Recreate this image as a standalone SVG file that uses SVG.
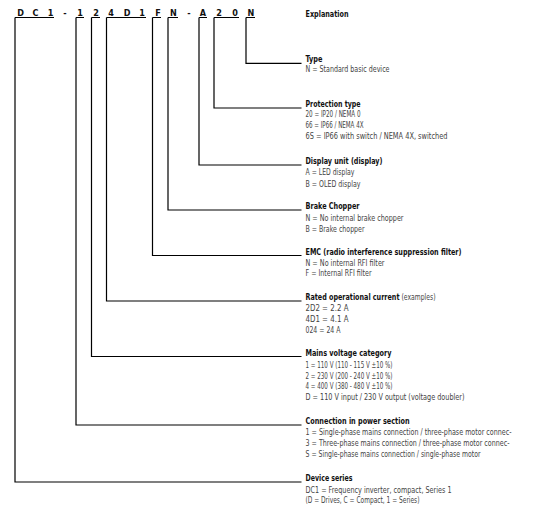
<svg xmlns="http://www.w3.org/2000/svg" width="546" height="512" viewBox="0 0 546 512">
<style>
.code{font-family:"DejaVu Sans Condensed","Liberation Sans",sans-serif;font-weight:bold;font-size:9px;fill:#111;text-anchor:middle}
.t{font-family:"DejaVu Sans Condensed","Liberation Sans",sans-serif;font-weight:bold;font-size:8.7px;fill:#111}
.b{font-family:"DejaVu Sans Condensed","Liberation Sans",sans-serif;font-size:8.5px;fill:#444}
.ln{fill:none;stroke:#000;stroke-width:1.2}
</style>
<rect width="546" height="512" fill="#fff"/>
<g id="code">
<text class="code" x="20.5" y="16">D</text>
<text class="code" x="35.5" y="16">C</text>
<text class="code" x="50.5" y="16">1</text>
<text class="code" x="65" y="16">-</text>
<text class="code" x="80" y="16">1</text>
<text class="code" x="96" y="16">2</text>
<text class="code" x="111" y="16">4</text>
<text class="code" x="127" y="16">D</text>
<text class="code" x="142" y="16">1</text>
<text class="code" x="158" y="16">F</text>
<text class="code" x="173.5" y="16">N</text>
<text class="code" x="189" y="16">-</text>
<text class="code" x="203" y="16">A</text>
<text class="code" x="219" y="16">2</text>
<text class="code" x="235" y="16">0</text>
<text class="code" x="251" y="16">N</text>
</g>
<g id="connectors">
<path class="ln" d="M15 17.5H54M15 17.5V482H301.5"/>
<path class="ln" d="M76 17.5H84M76 17.5V425H301.5"/>
<path class="ln" d="M91.5 17.5H100M91.5 17.5V356.5H301.5"/>
<path class="ln" d="M106.5 17.5H146M106.5 17.5V301H301.5"/>
<path class="ln" d="M152.5 17.5H161M152.5 17.5V255.5H301.5"/>
<path class="ln" d="M168 17.5H178M168 17.5V210H301.5"/>
<path class="ln" d="M199 17.5H207M199 17.5V165H301.5"/>
<path class="ln" d="M214 17.5H239M214 17.5V108H301.5"/>
<path class="ln" d="M246 17.5H255M246 17.5V63.3H301.5"/>
</g>
<g id="explanation"><text class="t" x="305.5" y="16.5" textLength="43" lengthAdjust="spacingAndGlyphs">Explanation</text></g>
<g id="type">
<text class="t" x="305.5" y="62" textLength="17" lengthAdjust="spacingAndGlyphs">Type</text>
<text class="b" x="305.5" y="72" textLength="84" lengthAdjust="spacingAndGlyphs">N = Standard basic device</text>
</g>
<g id="protection">
<text class="t" x="305.5" y="107" textLength="55" lengthAdjust="spacingAndGlyphs">Protection type</text>
<text class="b" x="305.5" y="117" textLength="55" lengthAdjust="spacingAndGlyphs">20 = IP20 / NEMA 0</text>
<text class="b" x="305.5" y="128" textLength="58" lengthAdjust="spacingAndGlyphs">66 = IP66 / NEMA 4X</text>
<text class="b" x="305.5" y="139" textLength="142" lengthAdjust="spacingAndGlyphs">6S = IP66 with switch / NEMA 4X, switched</text>
</g>
<g id="display">
<text class="t" x="305.5" y="164" textLength="77" lengthAdjust="spacingAndGlyphs">Display unit (display)</text>
<text class="b" x="305.5" y="175" textLength="49" lengthAdjust="spacingAndGlyphs">A = LED display</text>
<text class="b" x="305.5" y="186.5" textLength="55" lengthAdjust="spacingAndGlyphs">B = OLED display</text>
</g>
<g id="brake">
<text class="t" x="305.5" y="209" textLength="54" lengthAdjust="spacingAndGlyphs">Brake Chopper</text>
<text class="b" x="305.5" y="221" textLength="98" lengthAdjust="spacingAndGlyphs">N = No internal brake chopper</text>
<text class="b" x="305.5" y="232" textLength="59" lengthAdjust="spacingAndGlyphs">B = Brake chopper</text>
</g>
<g id="emc">
<text class="t" x="305.5" y="255" textLength="156" lengthAdjust="spacingAndGlyphs">EMC (radio interference suppression filter)</text>
<text class="b" x="305.5" y="265.5" textLength="79" lengthAdjust="spacingAndGlyphs">N = No internal RFI filter</text>
<text class="b" x="305.5" y="276" textLength="66" lengthAdjust="spacingAndGlyphs">F = Internal RFI filter</text>
</g>
<g id="current">
<text class="t" x="305.5" y="300" textLength="94" lengthAdjust="spacingAndGlyphs">Rated operational current</text>
<text class="b" x="401.5" y="300" textLength="34" lengthAdjust="spacingAndGlyphs">(examples)</text>
<text class="b" x="305.5" y="310.5" textLength="43" lengthAdjust="spacingAndGlyphs">2D2 = 2.2 A</text>
<text class="b" x="305.5" y="321.5" textLength="43" lengthAdjust="spacingAndGlyphs">4D1 = 4.1 A</text>
<text class="b" x="305.5" y="333" textLength="35" lengthAdjust="spacingAndGlyphs">024 = 24 A</text>
</g>
<g id="mains">
<text class="t" x="305.5" y="356" textLength="86" lengthAdjust="spacingAndGlyphs">Mains voltage category</text>
<text class="b" x="305.5" y="368" textLength="87" lengthAdjust="spacingAndGlyphs">1 = 110 V (110 - 115 V ±10 %)</text>
<text class="b" x="305.5" y="378.5" textLength="87" lengthAdjust="spacingAndGlyphs">2 = 230 V (200 - 240 V ±10 %)</text>
<text class="b" x="305.5" y="389" textLength="87" lengthAdjust="spacingAndGlyphs">4 = 400 V (380 - 480 V ±10 %)</text>
<text class="b" x="305.5" y="399.5" textLength="159" lengthAdjust="spacingAndGlyphs">D = 110 V input / 230 V output (voltage doubler)</text>
</g>
<g id="connection">
<text class="t" x="305.5" y="424" textLength="104" lengthAdjust="spacingAndGlyphs">Connection in power section</text>
<text class="b" x="305.5" y="435" textLength="206" lengthAdjust="spacingAndGlyphs">1 = Single-phase mains connection / three-phase motor connec-</text>
<text class="b" x="305.5" y="446" textLength="204" lengthAdjust="spacingAndGlyphs">3 = Three-phase mains connection / three-phase motor connec-</text>
<text class="b" x="305.5" y="457" textLength="175" lengthAdjust="spacingAndGlyphs">S = Single-phase mains connection / single-phase motor</text>
</g>
<g id="series">
<text class="t" x="305.5" y="481" textLength="47" lengthAdjust="spacingAndGlyphs">Device series</text>
<text class="b" x="305.5" y="492.5" textLength="146" lengthAdjust="spacingAndGlyphs">DC1 = Frequency inverter, compact, Series 1</text>
<text class="b" x="305.5" y="503" textLength="114" lengthAdjust="spacingAndGlyphs">(D = Drives, C = Compact, 1 = Series)</text>
</g>
</svg>
